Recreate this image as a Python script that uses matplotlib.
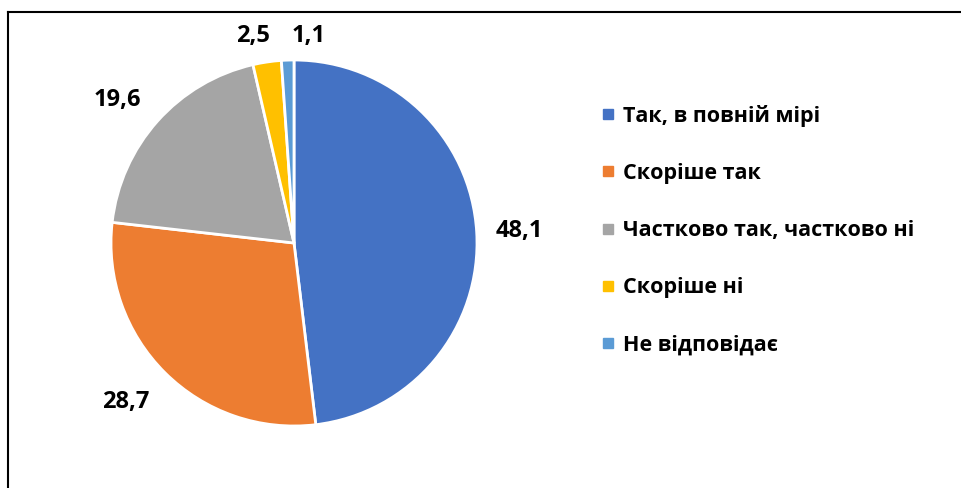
import numpy as np
import matplotlib
matplotlib.use('Agg')
import matplotlib.pyplot as plt
from matplotlib.lines import Line2D

# data
categories = ['Так, в повній мірі', 'Скоріше так', 'Частково так, частково ні',
              'Скоріше ні', 'Не відповідає']
values = [48.1, 28.7, 19.6, 2.5, 1.1]
value_labels = ['48,1', '28,7', '19,6', '2,5', '1,1']
colors = ['#4472C4', '#ED7D31', '#A5A5A5', '#FFC000', '#5B9BD5']

# label placement (radius factor, angle nudge in degrees) like Excel's best fit
label_dist = [1.231, 1.266, 1.24, 1.153, 1.134]
label_nudge = [-0.4, -1.9, 2.8, 2.7, -5.9]

plt.rcParams['font.family'] = ['Open Sans', 'DejaVu Sans']
plt.rcParams['font.weight'] = 'bold'

W, H = 961, 488
fig = plt.figure(figsize=(W / 100, H / 100), dpi=100)

# pie axes: center (294, 243) px, radius 183 px
cx, cy, r = 294, 243, 183
ax = fig.add_axes([(cx - r) / W, (H - cy - r) / H, 2 * r / W, 2 * r / H])
wedges, _ = ax.pie(values, colors=colors, startangle=90, counterclock=False,
                   wedgeprops=dict(edgecolor='white', linewidth=2))
ax.set_xlim(-1, 1)
ax.set_ylim(-1, 1)
ax.set_aspect('equal')
ax.axis('off')

total = sum(values)
start = 90.0
for w, v, lab, d, nud in zip(wedges, values, value_labels, label_dist, label_nudge):
    span = 360.0 * v / total
    mid = np.deg2rad(start - span / 2 + nud)
    ax.text(d * np.cos(mid), d * np.sin(mid), lab, ha='center', va='center',
            fontsize=17, fontweight='bold', color='black', clip_on=False)
    start -= span

handles = [Line2D([], [], marker='s', linestyle='none', markersize=7,
                  markerfacecolor=c, markeredgecolor=c) for c in colors]
fig.legend(handles, categories, loc='upper left',
           bbox_to_anchor=(591 / W, 1 - 94 / H), frameon=False,
           fontsize=15.5, labelspacing=1.68, handlelength=0.6,
           handletextpad=0.4, borderpad=0)

# outer frame (cut off at right and bottom)
fig.add_artist(Line2D([8 / W, 8 / W], [0, 1 - 12 / H], color='black', linewidth=1.5,
                      transform=fig.transFigure))
fig.add_artist(Line2D([8 / W, 1], [1 - 12 / H, 1 - 12 / H], color='black', linewidth=1.5,
                      transform=fig.transFigure))

fig.savefig('out.png', dpi=100, facecolor='white')
